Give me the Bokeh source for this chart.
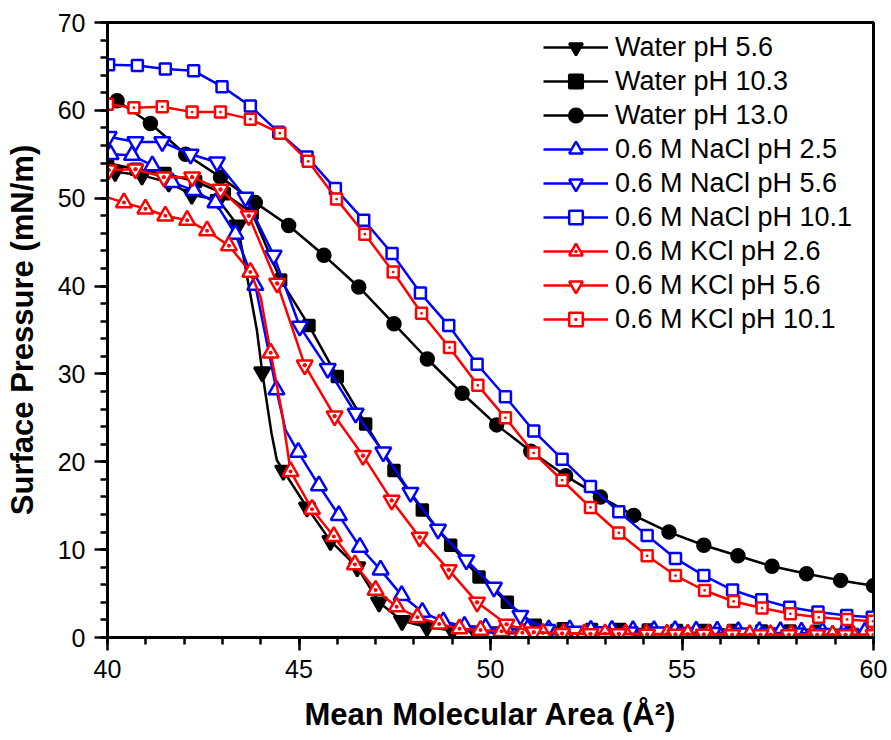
from bokeh.plotting import figure
from bokeh.models import Range1d, SingleIntervalTicker, Legend, LegendItem
from bokeh.embed import file_html
from bokeh.resources import INLINE

# ---------------- data ----------------
labels = ["Water pH 5.6", "Water pH 10.3", "Water pH 13.0",
          "0.6 M NaCl pH 2.5", "0.6 M NaCl pH 5.6", "0.6 M NaCl pH 10.1",
          "0.6 M KCl pH 2.6", "0.6 M KCl pH 5.6", "0.6 M KCl pH 10.1"]

water56_x = [40.2, 40.9, 41.6, 42.2, 42.9, 43.4, 44.04, 44.59, 45.21, 45.82, 46.52, 47.09, 47.69, 48.34,
             49.0, 49.6, 50.2, 50.85, 51.5, 52.1, 52.75, 53.4, 54.0, 54.65, 55.3, 55.9, 56.55, 57.2,
             57.8, 58.45, 59.1, 59.7]
water56_y = [53.0, 52.6, 51.8, 50.4, 49.8, 46.9, 30.2, 19.0, 14.8, 11.0, 8.0, 4.0, 1.9, 1.2,
             0.8, 0.7, 0.6, 0.6, 0.55, 0.5, 0.5, 0.5, 0.45, 0.45, 0.4, 0.4, 0.4, 0.4,
             0.35, 0.35, 0.35, 0.3]
water56_bend_x = [43.9, 44.28, 44.42]
water56_bend_y = [35.0, 23.3, 20.2]

water103_x = [40.0, 40.75, 41.5, 42.3, 43.05, 43.78, 44.52, 45.26, 46.0, 46.74, 47.48, 48.22, 48.96,
              49.7, 50.44, 51.17, 51.9, 52.64, 53.38, 54.12, 54.86, 55.6, 56.34, 57.08, 57.82, 58.56, 59.3]
water103_y = [54.0, 53.3, 52.8, 51.9, 50.5, 48.3, 40.7, 35.5, 29.7, 24.3, 19.0, 14.5, 10.5,
              6.9, 4.0, 1.4, 1.0, 0.9, 0.9, 0.85, 0.8, 0.8, 0.8, 0.75, 0.75, 0.7, 0.7]

water13_x = [40.25, 41.12, 42.04, 42.95, 43.86, 44.73, 45.65, 46.56, 47.48, 48.35, 49.26, 50.16,
             51.05, 51.96, 52.87, 53.74, 54.66, 55.57, 56.46, 57.35, 58.25, 59.14, 60.0]
water13_y = [61.1, 58.5, 55.0, 52.4, 49.5, 46.9, 43.5, 39.9, 35.7, 31.7, 27.8, 24.2,
             21.2, 18.4, 16.0, 13.9, 12.0, 10.5, 9.3, 8.1, 7.25, 6.5, 5.9]

nacl25_x = [40.08, 40.64, 41.17, 41.69, 42.25, 42.82, 43.34, 43.86, 44.41, 44.98, 45.52, 46.04, 46.59,
            47.13, 47.68, 48.22, 48.77, 49.32, 49.87, 50.42, 50.97, 51.52, 52.07, 52.62, 53.17, 53.72,
            54.27, 54.82, 55.37, 55.92, 56.47, 57.02, 57.57, 58.12, 58.67, 59.22, 59.77]
nacl25_y = [55.0, 54.9, 53.7, 51.8, 50.9, 49.5, 45.9, 40.1, 28.2, 21.1, 17.3, 13.9, 10.3,
            7.7, 4.8, 2.9, 1.8, 1.3, 1.1, 1.0, 0.95, 0.9, 0.9, 0.85, 0.85, 0.8,
            0.8, 0.8, 0.75, 0.75, 0.7, 0.7, 0.7, 0.65, 0.65, 0.6, 0.6]
nacl25_bend_x = [44.08, 44.65]
nacl25_bend_y = [35.3, 23.6]

nacl56_x = [40.03, 40.73, 41.43, 42.17, 42.86, 43.6, 44.34, 45.02, 45.75, 46.48, 47.2, 47.91, 48.63,
            49.37, 50.09, 50.78, 51.48, 52.2, 52.92, 53.64, 54.36, 55.08, 55.8, 56.52, 57.24, 57.96,
            58.68, 59.4]
nacl56_y = [57.0, 56.4, 56.4, 55.0, 54.1, 50.1, 43.5, 35.4, 30.6, 25.5, 21.1, 16.5, 12.3,
            8.8, 5.7, 2.5, 0.9, 0.7, 0.65, 0.6, 0.6, 0.55, 0.55, 0.5, 0.5, 0.5,
            0.45, 0.45]

nacl101_x = [40.03, 40.78, 41.51, 42.25, 42.99, 43.73, 44.47, 45.21, 45.95, 46.69, 47.43, 48.17, 48.91,
             49.65, 50.39, 51.13, 51.87, 52.61, 53.35, 54.09, 54.83, 55.57, 56.32, 57.08, 57.81, 58.55,
             59.3, 59.97]
nacl101_y = [65.2, 65.1, 64.7, 64.5, 62.7, 60.5, 57.5, 54.7, 51.1, 47.5, 43.7, 39.2, 35.5,
             31.1, 27.4, 23.5, 20.3, 17.2, 14.3, 11.6, 9.0, 7.05, 5.4, 4.3, 3.45, 2.9,
             2.5, 2.3]

kcl26_x = [40.43, 40.99, 41.51, 42.08, 42.6, 43.17, 43.73, 44.26, 44.78, 45.34, 45.91, 46.46, 47.0,
           47.55, 48.09, 48.66, 49.19, 49.74, 50.29, 50.83, 51.37, 51.91, 52.45, 52.99, 53.53, 54.07,
           54.61, 55.15, 55.69, 56.23, 56.77, 57.31, 57.85, 58.39, 58.93, 59.47, 60.0]
kcl26_y = [49.5, 48.8, 48.0, 47.5, 46.3, 44.6, 41.6, 32.4, 18.9, 14.6, 11.5, 8.3, 5.4,
           3.5, 2.3, 1.55, 1.0, 0.85, 0.7, 0.55, 0.5, 0.5, 0.45, 0.45, 0.45, 0.4,
           0.4, 0.4, 0.4, 0.4, 0.35, 0.35, 0.35, 0.35, 0.3, 0.3, 0.3]
kcl26_bend_x = [40.0, 44.0, 44.56]
kcl26_bend_y = [50.1, 38.7, 25.5]

kcl56_x = [40.03, 40.73, 41.47, 42.21, 42.95, 43.69, 44.43, 45.15, 45.93, 46.67, 47.42, 48.15, 48.91,
           49.65, 50.42, 51.13, 51.87, 52.61, 53.35, 54.09, 54.83, 55.57, 56.31, 57.05, 57.79, 58.53,
           59.27, 60.0]
kcl56_y = [53.2, 53.3, 52.4, 52.4, 51.0, 48.0, 40.3, 31.0, 25.2, 20.7, 15.6, 11.4, 7.7,
           4.0, 1.5, 0.6, 0.45, 0.4, 0.4, 0.35, 0.35, 0.35, 0.3, 0.3, 0.3, 0.3,
           0.3, 0.3]

kcl101_x = [40.0, 40.69, 41.43, 42.21, 42.95, 43.73, 44.5, 45.24, 45.98, 46.72, 47.46, 48.2, 48.93,
            49.67, 50.39, 51.13, 51.87, 52.61, 53.35, 54.09, 54.83, 55.59, 56.35, 57.09, 57.83, 58.57,
            59.31, 59.99]
kcl101_y = [60.7, 60.3, 60.4, 59.8, 59.8, 59.0, 57.4, 54.2, 49.9, 45.9, 41.6, 36.9, 33.0,
            28.7, 25.0, 21.0, 17.9, 14.8, 11.9, 9.3, 7.05, 5.35, 4.1, 3.35, 2.7, 2.3,
            2.05, 1.85]

x_ticks_interval = 5
y_ticks_interval = 10

# ---------------- styling ----------------
BLACK, BLUE, RED = "#000000", "#0000FF", "#FF0000"
FONT = "Liberation Sans"

p = figure(frame_width=766, frame_height=615,
           min_border_left=107, min_border_right=18, min_border_top=22, min_border_bottom=103,
           x_range=Range1d(40, 60), y_range=Range1d(0, 70),
           output_backend="svg", toolbar_location=None,
           x_axis_label="Mean Molecular Area (Å²)", y_axis_label="Surface Pressure (mN/m)")
p.background_fill_color = "white"
p.border_fill_color = "white"
p.outline_line_color = BLACK
p.outline_line_width = 3
p.grid.visible = False

p.xaxis.ticker = SingleIntervalTicker(interval=x_ticks_interval, num_minor_ticks=5)
p.yaxis.ticker = SingleIntervalTicker(interval=y_ticks_interval, num_minor_ticks=5)

for ax in (p.xaxis[0], p.yaxis[0]):
    ax.axis_line_width = 3
    ax.axis_line_color = BLACK
    ax.major_tick_line_width = 2.5
    ax.minor_tick_line_width = 2.5
    ax.major_tick_in = 0
    ax.minor_tick_in = 0
    ax.major_tick_out = 13
    ax.minor_tick_out = 7
    ax.major_label_text_font = FONT
    ax.major_label_text_font_size = "25px"
    ax.major_label_text_color = BLACK
    ax.axis_label_text_font = FONT
    ax.axis_label_text_font_style = "bold"
    ax.axis_label_text_font_size = "31px"
    ax.axis_label_text_color = BLACK
p.xaxis.major_label_standoff = 9
p.yaxis.major_label_standoff = 9
p.xaxis.axis_label_standoff = 16
p.yaxis.axis_label_standoff = 15


def merged(xs, ys, bx=None, by=None):
    pts = list(zip(xs, ys))
    if bx:
        pts += list(zip(bx, by))
    pts.sort()
    return [a for a, _ in pts], [b for _, b in pts]


series = [
    (water56_x, water56_y, water56_bend_x, water56_bend_y, BLACK, "inverted_triangle", BLACK, False, 16),
    (water103_x, water103_y, None, None, BLACK, "square", BLACK, False, 11),
    (water13_x, water13_y, None, None, BLACK, "circle", BLACK, False, 13),
    (nacl25_x, nacl25_y, nacl25_bend_x, nacl25_bend_y, BLUE, "triangle", "white", False, 16),
    (nacl56_x, nacl56_y, None, None, BLUE, "inverted_triangle", "white", False, 16),
    (nacl101_x, nacl101_y, None, None, BLUE, "square", "white", False, 11),
    (kcl26_x, kcl26_y, kcl26_bend_x, kcl26_bend_y, RED, "triangle_dot", "white", False, 16),
    (kcl56_x, kcl56_y, None, None, RED, "inverted_triangle", "white", True, 16),
    (kcl101_x, kcl101_y, None, None, RED, "square_dot", "white", False, 11),
]

items = []
for lab, (xs, ys, bx, by, col, mk, fill, dot, size) in zip(labels, series):
    lx, ly = merged(xs, ys, bx, by)
    rl = p.line(lx, ly, line_color=col, line_width=2.5)
    rs = p.scatter(xs, ys, marker=mk, size=size, line_color=col, fill_color=fill, line_width=2.5)
    if dot:
        p.scatter(xs, ys, marker="circle", size=3.5, line_color=col, fill_color=col, line_width=1)
    items.append(LegendItem(label=lab, renderers=[rl, rs]))

legend = Legend(items=items, location=(436, 301))
legend.border_line_alpha = 0
legend.background_fill_alpha = 0
legend.padding = 0
legend.margin = 0
legend.spacing = 0
legend.glyph_width = 65
legend.glyph_height = 34
legend.label_height = 34
legend.label_standoff = 7
legend.label_text_font = FONT
legend.label_text_font_size = "27px"
legend.label_text_color = BLACK
p.add_layout(legend, "center")

open("out.html", "w").write(file_html(p, INLINE))
